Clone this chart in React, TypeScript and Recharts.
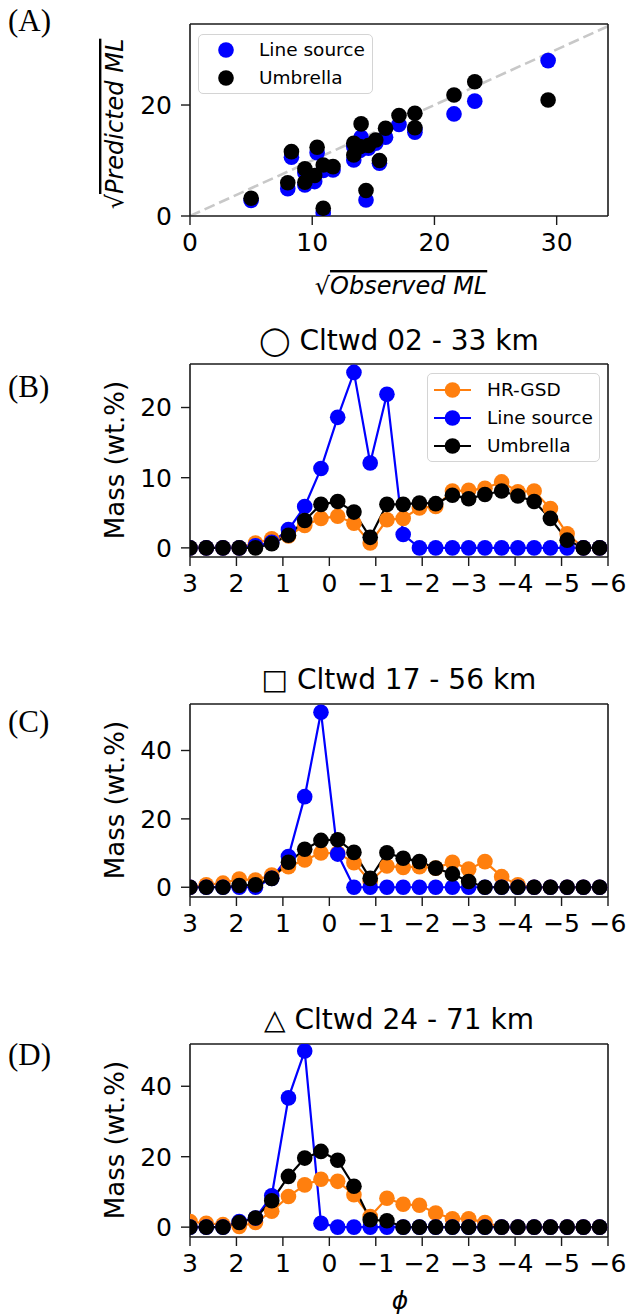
import React from 'react';
import { ScatterChart, Scatter, LineChart, Line, XAxis, YAxis, ReferenceLine } from 'recharts';

const FONT = '"DejaVu Sans", sans-serif';
const SERIF = '"Liberation Serif", "DejaVu Serif", serif';

// ---------- Panel A: sqrt of mass loading, observed vs predicted ----------
const observedML = [5.0, 8.0, 8.3, 9.4, 9.4, 10.2, 10.4, 10.9, 10.9, 11.7, 13.4, 13.4, 13.9, 14.0, 14.4, 14.6, 15.2, 15.5, 16.0, 17.1, 18.4, 18.4, 21.6, 23.3, 29.3];
const predictedLineSource = [2.8, 4.9, 10.6, 7.8, 5.6, 6.2, 11.4, 8.2, 0.6, 8.3, 10.1, 12.5, 11.8, 14.2, 2.9, 12.2, 13.1, 9.5, 14.2, 16.5, 15.1, 15.6, 18.4, 20.7, 28.0];
const predictedUmbrella = [3.2, 6.0, 11.6, 8.5, 6.1, 7.3, 12.4, 9.2, 1.4, 8.9, 11.0, 13.1, 12.5, 16.6, 4.6, 12.7, 13.7, 10.0, 15.8, 18.1, 15.9, 18.5, 21.8, 24.2, 20.9];
const scatterXTicks = [0, 10, 20, 30];
const scatterYTicks = [0, 20];
const scatterXDomain: [number, number] = [0, 34.2];
const scatterYDomain: [number, number] = [0, 34.6];

// ---------- Panels B-D: grain-size distributions ----------
const phi = [3.0, 2.65, 2.29, 1.94, 1.59, 1.24, 0.88, 0.53, 0.18, -0.18, -0.53, -0.88, -1.24, -1.59, -1.94, -2.29, -2.65, -3.0, -3.35, -3.71, -4.06, -4.41, -4.76, -5.12, -5.47, -5.82];
const phiTicks = [3, 2, 1, 0, -1, -2, -3, -4, -5, -6];
const phiDomain: [number, number] = [-6, 3];

const hrGsdB = [0, 0, 0, 0, 0.7, 1.3, 1.7, 3.2, 4.2, 4.5, 3.5, 0.7, 4.0, 4.2, 5.7, 5.9, 8.1, 8.2, 8.5, 9.4, 8.0, 8.1, 5.6, 2.0, 0, 0];
const lineSourceB = [0, 0, 0, 0, 0.3, 0.8, 2.6, 5.9, 11.3, 18.6, 25.0, 12.1, 21.9, 1.9, 0, 0, 0, 0, 0, 0, 0, 0, 0, 0, 0, 0];
const umbrellaB = [0, 0, 0, 0, 0, 0.6, 1.8, 3.9, 6.2, 6.6, 5.1, 1.5, 6.2, 6.2, 6.4, 6.3, 7.5, 7.0, 7.6, 8.1, 7.4, 6.6, 4.2, 1.1, 0, 0];

const hrGsdC = [0, 0.7, 1.2, 2.4, 2.1, 3.6, 6.0, 8.0, 10.0, 10.0, 7.2, 1.7, 6.2, 5.8, 6.0, 5.6, 7.3, 5.3, 7.5, 3.1, 0.7, 0, 0, 0, 0, 0];
const lineSourceC = [0, 0, 0, 0, 0, 2.6, 9.0, 26.5, 51.2, 9.7, 0, 0, 0, 0, 0, 0, 0, 0, 0, 0, 0, 0, 0, 0, 0, 0];
const umbrellaC = [0, 0, 0, 0.5, 0.7, 2.6, 7.3, 11.1, 13.7, 13.9, 10.2, 2.6, 10.1, 8.5, 7.5, 5.6, 3.9, 1.7, 0, 0, 0, 0, 0, 0, 0, 0];

const hrGsdD = [1.6, 1.1, 0.7, 0.2, 1.3, 4.5, 8.7, 12.0, 13.6, 13.0, 9.2, 3.0, 8.2, 6.5, 6.2, 4.0, 2.4, 2.4, 1.3, 0, 0, 0, 0, 0, 0, 0];
const lineSourceD = [0, 0, 0, 1.6, 2.6, 8.9, 36.7, 50.0, 1.1, 0, 0, 0, 0, 0, 0, 0, 0, 0, 0, 0, 0, 0, 0, 0, 0, 0];
const umbrellaD = [0, 0, 0, 1.3, 2.6, 7.5, 14.4, 19.6, 21.5, 19.0, 11.6, 2.1, 1.8, 0, 0, 0, 0, 0, 0, 0, 0, 0, 0, 0, 0, 0];

const ORANGE = '#ff7f0e';
const BLUE = '#0000ff';
const BLACK = '#000000';

const AXIS = '#1a1a1a';
const tickStyle = { fill: '#000', fontSize: 25, fontFamily: FONT };
const axisLine = { stroke: AXIS, strokeWidth: 1.6 };
const tickLine = { stroke: AXIS, strokeWidth: 1.4 };

const PLOT_RIGHT_MARGIN = 23;
const Y_AXIS_W = 190;

const fmtPhi = (v: number) => (v < 0 ? '\u2212' + Math.abs(v) : String(v));

const scatterA = observedML.map((x, i) => ({ x, y: predictedLineSource[i] }));
const scatterB = observedML.map((x, i) => ({ x, y: predictedUmbrella[i] }));

const dotShape = (color: string) => (props: any) => (
  <circle cx={props.cx} cy={props.cy} r={7.8} fill={color} />
);

function ScatterLegend() {
  const rows = [
    { label: 'Line source', color: BLUE },
    { label: 'Umbrella', color: BLACK },
  ];
  return (
    <div
      style={{
        position: 'absolute', left: 198, top: 34, width: 175, height: 60,
        border: '1.3px solid #d4d4d4', borderRadius: 5, background: 'rgba(255,255,255,0.8)',
        boxSizing: 'border-box',
      }}
    >
      {rows.map((r, i) => (
        <div key={r.label} style={{ position: 'absolute', left: 0, top: 15 + i * 28.3 - 12, height: 24, width: '100%' }}>
          <svg width={40} height={24} style={{ position: 'absolute', left: 7, top: 0 }}>
            <circle cx={20} cy={12} r={7.8} fill={r.color} />
          </svg>
          <span style={{ position: 'absolute', left: 60, top: 0, lineHeight: '24px', fontSize: 18.5, fontFamily: FONT, color: '#000', whiteSpace: 'nowrap' }}>
            {r.label}
          </span>
        </div>
      ))}
    </div>
  );
}

function LineLegend({ top }: { top: number }) {
  const rows = [
    { label: 'HR-GSD', color: ORANGE },
    { label: 'Line source', color: BLUE },
    { label: 'Umbrella', color: BLACK },
  ];
  return (
    <div
      style={{
        position: 'absolute', left: 427, top, width: 173, height: 89,
        border: '1.3px solid #d4d4d4', borderRadius: 5, background: 'rgba(255,255,255,0.8)',
        boxSizing: 'border-box',
      }}
    >
      {rows.map((r, i) => (
        <div key={r.label} style={{ position: 'absolute', left: 0, top: 16 + i * 28 - 12, height: 24, width: '100%' }}>
          <svg width={50} height={24} style={{ position: 'absolute', left: 0, top: 0 }}>
            <line x1={6} x2={43} y1={12} y2={12} stroke={r.color} strokeWidth={2.2} />
            <circle cx={24.5} cy={12} r={7.8} fill={r.color} />
          </svg>
          <span style={{ position: 'absolute', left: 59, top: 0, lineHeight: '24px', fontSize: 18.5, fontFamily: FONT, color: '#000', whiteSpace: 'nowrap' }}>
            {r.label}
          </span>
        </div>
      ))}
    </div>
  );
}

function ScatterPanel() {
  return (
    <div style={{ position: 'absolute', left: 0, top: 0 }}>
      <ScatterChart width={631} height={300} margin={{ top: 24, right: PLOT_RIGHT_MARGIN, bottom: 24, left: 0 }}>
        <XAxis
          type="number" dataKey="x" domain={scatterXDomain} ticks={scatterXTicks} allowDataOverflow
          height={60} tick={tickStyle} tickSize={9} tickMargin={8} axisLine={axisLine} tickLine={tickLine}
        />
        <YAxis
          type="number" dataKey="y" domain={scatterYDomain} ticks={scatterYTicks} allowDataOverflow
          width={Y_AXIS_W} tick={tickStyle} tickSize={9} tickMargin={9} axisLine={axisLine} tickLine={tickLine}
        />
        <ReferenceLine
          segment={[{ x: 0, y: 0 }, { x: 34.2, y: 34.2 }]}
          stroke="#c8c8c8" strokeWidth={2.6} strokeDasharray="11 5" ifOverflow="hidden"
        />
        <Scatter name="Line source" data={scatterA} shape={dotShape(BLUE)} isAnimationActive={false} />
        <Scatter name="Umbrella" data={scatterB} shape={dotShape(BLACK)} isAnimationActive={false} />
        {/* closing frame: top and right spines */}
        <ReferenceLine y={scatterYDomain[1]} stroke={AXIS} strokeWidth={1.6} />
        <ReferenceLine x={scatterXDomain[1]} stroke={AXIS} strokeWidth={1.6} />
      </ScatterChart>
      <ScatterLegend />
    </div>
  );
}

type PhiPanelProps = {
  plotTop: number;
  hr: number[];
  ls: number[];
  um: number[];
  yDomain: [number, number];
  yTicks: number[];
  legend?: boolean;
};

function PhiPanel({ plotTop, hr, ls, um, yDomain, yTicks, legend }: PhiPanelProps) {
  const data = phi.map((p, i) => ({ phi: p, hr: hr[i], ls: ls[i], um: um[i] }));
  const pad = 10;
  return (
    <div style={{ position: 'absolute', left: 0, top: plotTop - pad }}>
      <LineChart width={631} height={pad + 193 + 60} data={data} margin={{ top: pad, right: PLOT_RIGHT_MARGIN, bottom: 0, left: 0 }}>
        <XAxis
          type="number" dataKey="phi" domain={phiDomain} reversed ticks={phiTicks} allowDataOverflow
          tickFormatter={fmtPhi} height={60} tick={tickStyle} tickSize={9} tickMargin={8}
          axisLine={axisLine} tickLine={tickLine} interval={0}
        />
        <YAxis
          type="number" domain={yDomain} ticks={yTicks} allowDataOverflow
          width={Y_AXIS_W} tick={tickStyle} tickSize={9} tickMargin={9} axisLine={axisLine} tickLine={tickLine} interval={0}
        />
        <Line dataKey="hr" name="HR-GSD" stroke={ORANGE} strokeWidth={2.2} dot={{ r: 7.8, fill: ORANGE, stroke: 'none' }} activeDot={false} isAnimationActive={false} />
        <Line dataKey="ls" name="Line source" stroke={BLUE} strokeWidth={2.2} dot={{ r: 7.8, fill: BLUE, stroke: 'none' }} activeDot={false} isAnimationActive={false} />
        <Line dataKey="um" name="Umbrella" stroke={BLACK} strokeWidth={2.2} dot={{ r: 7.8, fill: BLACK, stroke: 'none' }} activeDot={false} isAnimationActive={false} />
        {/* closing frame: top and right spines */}
        <ReferenceLine y={yDomain[1]} stroke={AXIS} strokeWidth={1.6} />
        <ReferenceLine x={phiDomain[0]} stroke={AXIS} strokeWidth={1.6} />
      </LineChart>
      {legend ? <LineLegend top={373 - (plotTop - pad)} /> : null}
    </div>
  );
}

function Annotations() {
  const panelLabel = (txt: string, y: number) => (
    <text x={8} y={y} fontFamily={SERIF} fontSize={31} fill="#000">{txt}</text>
  );
  const title = (txt: string, y: number) => (
    <text x={399} y={y} textAnchor="middle" fontFamily={FONT} fontSize={28} fill="#000">{txt}</text>
  );
  const massLabel = (cy: number) => (
    <text x={124} y={cy} transform={`rotate(-90 124 ${cy})`} textAnchor="middle" fontFamily={FONT} fontSize={26} fill="#000">
      Mass (wt.%)
    </text>
  );
  return (
    <svg width={631} height={1316} style={{ position: 'absolute', left: 0, top: 0, pointerEvents: 'none' }}>
      {panelLabel('(A)', 31)}
      {panelLabel('(B)', 397)}
      {panelLabel('(C)', 732)}
      {panelLabel('(D)', 1065)}

      <text x={123} y={124} transform="rotate(-90 123 124)" textAnchor="middle" fontFamily={FONT} fontSize={24} fill="#000">
        <tspan>{'\u221A'}</tspan>
        <tspan fontStyle="italic" style={{ textDecoration: 'overline' }}>Predicted ML</tspan>
      </text>
      <text x={401} y={294} textAnchor="middle" fontFamily={FONT} fontSize={24} fill="#000">
        <tspan>{'\u221A'}</tspan>
        <tspan fontStyle="italic" style={{ textDecoration: 'overline' }}>Observed ML</tspan>
      </text>

      {title('\u25EF Cltwd 02 - 33 km', 350)}
      {title('\u25A1 Cltwd 17 - 56 km', 689)}
      {title('\u25B3 Cltwd 24 - 71 km', 1029)}

      {massLabel(460)}
      {massLabel(800)}
      {massLabel(1140)}

      <text x={400} y={1309} textAnchor="middle" fontFamily={FONT} fontSize={25} fontStyle="italic" fill="#000">{'\u03D5'}</text>
    </svg>
  );
}

export default function App() {
  return (
    <div style={{ position: 'absolute', left: 0, top: 0, width: 631, height: 1316, background: '#fff', overflow: 'hidden' }}>
      <ScatterPanel />
      <PhiPanel plotTop={364} hr={hrGsdB} ls={lineSourceB} um={umbrellaB} yDomain={[-1.3, 26.2]} yTicks={[0, 10, 20]} legend />
      <PhiPanel plotTop={704} hr={hrGsdC} ls={lineSourceC} um={umbrellaC} yDomain={[-2.85, 53.6]} yTicks={[0, 20, 40]} />
      <PhiPanel plotTop={1044} hr={hrGsdD} ls={lineSourceD} um={umbrellaD} yDomain={[-2.8, 52.0]} yTicks={[0, 20, 40]} />
      <Annotations />
    </div>
  );
}
